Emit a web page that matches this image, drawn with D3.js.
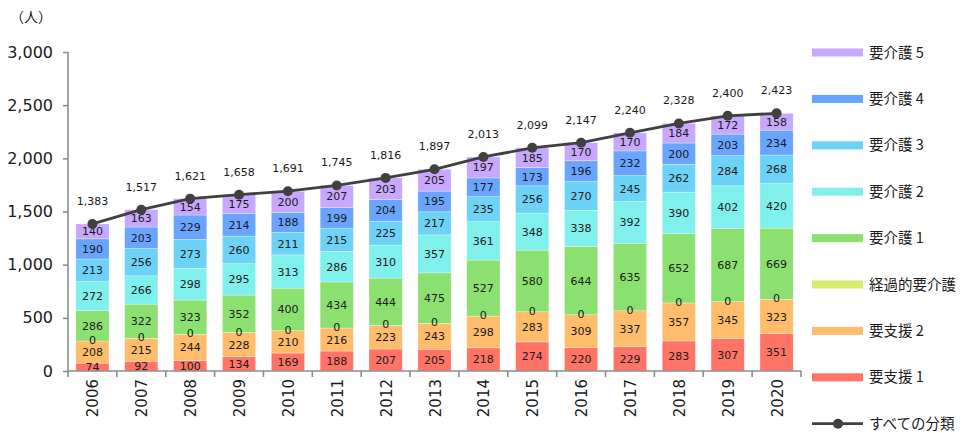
<!DOCTYPE html>
<html>
<head>
<meta charset="utf-8">
<script src="https://cdn.jsdelivr.net/npm/d3@7"></script>
<style>
	body {margin: 0; background: #fff;}
	svg {display: block;}
	.num {font-family: "DejaVu Sans", Verdana, sans-serif;}
	.jp {font-family: "Noto Sans CJK JP", sans-serif;}
</style>
</head>
<body>
<div id="chart"></div>
<script>
//Data
var years = ["2006","2007","2008","2009","2010","2011","2012","2013","2014","2015","2016","2017","2018","2019","2020"];
var youShien1 = [74,92,100,134,169,188,207,205,218,274,220,229,283,307,351];
var youShien2 = [208,215,244,228,210,216,223,243,298,283,309,337,357,345,323];
var keikateki = [0,0,0,0,0,0,0,0,0,0,0,0,0,0,0];
var youKaigo1 = [286,322,323,352,400,434,444,475,527,580,644,635,652,687,669];
var youKaigo2 = [272,266,298,295,313,286,310,357,361,348,338,392,390,402,420];
var youKaigo3 = [213,256,273,260,211,215,225,217,235,256,270,245,262,284,268];
var youKaigo4 = [190,203,229,214,188,199,204,195,177,173,196,232,200,203,234];
var youKaigo5 = [140,163,154,175,200,207,203,205,197,185,170,170,184,172,158];
var totals = [1383,1517,1621,1658,1691,1745,1816,1897,2013,2099,2147,2240,2328,2400,2423];
var yTicks = [0,500,1000,1500,2000,2500,3000];

//series from bottom to top
var series = [
	{name: "要支援 1", values: youShien1, color: "#ff7466"},
	{name: "要支援 2", values: youShien2, color: "#ffbc6a"},
	{name: "経過的要介護", values: keikateki, color: "#d6ec6c"},
	{name: "要介護 1", values: youKaigo1, color: "#8ce06f"},
	{name: "要介護 2", values: youKaigo2, color: "#7ff0ec"},
	{name: "要介護 3", values: youKaigo3, color: "#6cd2f6"},
	{name: "要介護 4", values: youKaigo4, color: "#69a5ff"},
	{name: "要介護 5", values: youKaigo5, color: "#c8a7ff"}
];

var width = 967, height = 433;
var svg = d3.select("#chart").append("svg")
	.attr("width", width)
	.attr("height", height);

var x = d3.scaleBand().domain(years).range([68, 801]).paddingInner(0.32).paddingOuter(0.16);
var y = d3.scaleLinear().domain([0, 3000]).range([371, 52]);

//table for stacking
var table = years.map(function(yr, i) {
	var row = {year: yr};
	series.forEach(function(s) { row[s.name] = s.values[i]; });
	return row;
});
var stacked = d3.stack().keys(series.map(function(s){return s.name;}))(table);

//bars
var layers = svg.append("g").selectAll("g")
	.data(stacked)
	.enter().append("g")
	.attr("fill", function(d, i){return series[i].color;});

layers.selectAll("rect")
	.data(function(d){return d;})
	.enter().append("rect")
	.attr("x", function(d){return x(d.data.year);})
	.attr("width", x.bandwidth())
	.attr("y", function(d){return y(d[1]);})
	.attr("height", function(d){return y(d[0]) - y(d[1]);})
	.attr("stroke", "#fff")
	.attr("stroke-opacity", 0.5)
	.attr("stroke-width", 0.6);

//segment labels, drawn on top of all bars
var labels = svg.append("g").selectAll("g")
	.data(stacked)
	.enter().append("g");
labels.selectAll("text")
	.data(function(d){return d;})
	.enter().append("text")
	.attr("class", "num")
	.attr("x", function(d){return x(d.data.year) + x.bandwidth()/2;})
	.attr("y", function(d){
		var mid = (y(d[0]) + y(d[1]))/2;
		return d[1] - d[0] === 0 ? mid + 3 : mid + 4;
	})
	.attr("text-anchor", "middle")
	.attr("font-size", "11px")
	.attr("fill", "#1a1a1a")
	.text(function(d){return d3.format(",")(d[1] - d[0]);});

//axes
var axisColor = "#8c8c8c";
var yAxis = svg.append("g")
	.attr("transform", "translate(68,0)")
	.call(d3.axisLeft(y).tickValues(yTicks).tickSize(5).tickPadding(10).tickFormat(d3.format(",")));
yAxis.selectAll("line, path").attr("stroke", axisColor).attr("stroke-width", 1.6);
yAxis.select(".domain").attr("d", "M0,52V371");
yAxis.selectAll("text")
	.attr("class", "num")
	.attr("font-size", "16px")
	.attr("fill", "#1a1a1a");

var xAxis = svg.append("g")
	.attr("transform", "translate(0,371)");
xAxis.append("line")
	.attr("x1", 68).attr("x2", 801)
	.attr("stroke", axisColor).attr("stroke-width", 1.6);
var step = x.step();
xAxis.selectAll(".tk")
	.data(d3.range(years.length + 1))
	.enter().append("line")
	.attr("x1", function(i){return 68 + i*step;})
	.attr("x2", function(i){return 68 + i*step;})
	.attr("y1", 0).attr("y2", 6)
	.attr("stroke", axisColor).attr("stroke-width", 1.6);
xAxis.selectAll(".yr")
	.data(years)
	.enter().append("text")
	.attr("class", "num")
	.attr("transform", function(d){return "translate(" + (x(d) + x.bandwidth()/2 + 6) + ",8) rotate(-90)";})
	.attr("text-anchor", "end")
	.attr("font-size", "15px")
	.attr("fill", "#1a1a1a")
	.text(function(d){return d;});

//unit label
svg.append("text")
	.attr("class", "jp")
	.attr("x", 10).attr("y", 22)
	.attr("font-size", "14px")
	.attr("fill", "#1a1a1a")
	.text("（人）");

//total line
var cx = function(i){return x(years[i]) + x.bandwidth()/2;};
var line = d3.line()
	.x(function(d, i){return cx(i);})
	.y(function(d){return y(d);});
svg.append("path")
	.datum(totals)
	.attr("d", line)
	.attr("fill", "none")
	.attr("stroke", "#404040")
	.attr("stroke-width", 2.8);
svg.append("g").selectAll("circle")
	.data(totals)
	.enter().append("circle")
	.attr("cx", function(d, i){return cx(i);})
	.attr("cy", function(d){return y(d);})
	.attr("r", 5)
	.attr("fill", "#404040");
svg.append("g").selectAll("text")
	.data(totals)
	.enter().append("text")
	.attr("class", "num")
	.attr("x", function(d, i){return cx(i);})
	.attr("y", function(d){return y(d) - 19;})
	.attr("text-anchor", "middle")
	.attr("font-size", "11px")
	.attr("fill", "#1a1a1a")
	.text(function(d){return d3.format(",")(d);});

//legend (top to bottom: 要介護5 ... 要支援1, then line)
var legendItems = series.slice().reverse();
var legend = svg.append("g");
var ly = function(i){return 52.5 + i*46.4;};
legend.selectAll("rect")
	.data(legendItems)
	.enter().append("rect")
	.attr("x", 812).attr("width", 51)
	.attr("y", function(d, i){return ly(i) - 4;})
	.attr("height", 8)
	.attr("fill", function(d){return d.color;});
legend.selectAll("text")
	.data(legendItems.map(function(d){return d.name;}).concat(["すべての分類"]))
	.enter().append("text")
	.attr("class", "jp")
	.attr("x", 869)
	.attr("y", function(d, i){return ly(i) + 5;})
	.attr("font-size", "14.5px")
	.attr("fill", "#1a1a1a")
	.text(function(d){return d;});
var lastY = ly(legendItems.length);
legend.append("line")
	.attr("x1", 812).attr("x2", 863)
	.attr("y1", lastY).attr("y2", lastY)
	.attr("stroke", "#404040").attr("stroke-width", 2.8);
legend.append("circle")
	.attr("cx", 838).attr("cy", lastY).attr("r", 5)
	.attr("fill", "#404040");
</script>
</body>
</html>
